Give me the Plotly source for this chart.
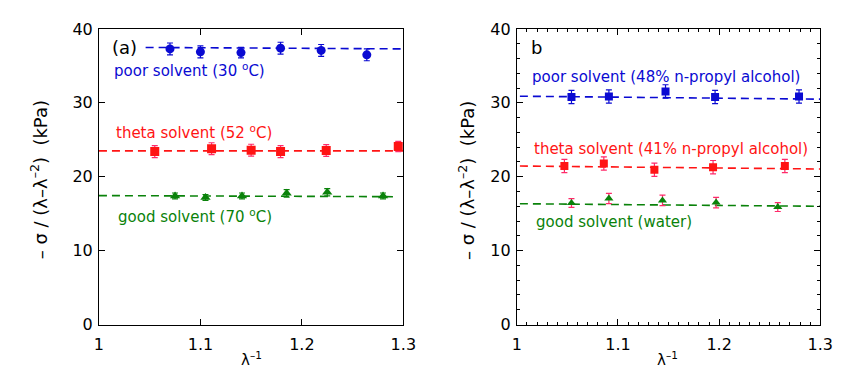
import plotly.graph_objects as go

# ---- data: panel (a) ----
a_poor_x = [1.070, 1.100, 1.140, 1.179, 1.219, 1.264]
a_poor_y = [37.3, 36.9, 36.8, 37.4, 37.1, 36.5]
a_poor_e = [0.8, 0.8, 0.7, 0.8, 0.8, 0.8]
a_poor_fit_x = [1.046, 1.30]
a_poor_fit_y = [37.5, 37.3]

a_theta_x = [1.055, 1.111, 1.150, 1.179, 1.224, 1.295]
a_theta_y = [23.4, 23.8, 23.6, 23.4, 23.55, 24.1]
a_theta_e = [0.8, 0.8, 0.8, 0.8, 0.8, 0.7]
a_theta_fit_x = [1.00, 1.30]
a_theta_fit_y = [23.5, 23.5]

a_good_x = [1.075, 1.105, 1.141, 1.185, 1.225, 1.280]
a_good_y = [17.4, 17.2, 17.4, 17.75, 17.9, 17.4]
a_good_e = [0.4, 0.4, 0.4, 0.5, 0.5, 0.4]
a_good_fit_x = [1.00, 1.29]
a_good_fit_y = [17.45, 17.3]

# ---- data: panel (b) ----
b_poor_x = [1.054, 1.091, 1.147, 1.196, 1.279]
b_poor_y = [30.8, 30.85, 31.55, 30.8, 30.85]
b_poor_e = [0.9, 0.9, 0.9, 0.9, 0.9]
b_poor_fit_x = [1.003, 1.30]
b_poor_fit_y = [30.9, 30.5]

b_theta_x = [1.047, 1.086, 1.136, 1.194, 1.265]
b_theta_y = [21.45, 21.8, 20.95, 21.3, 21.45]
b_theta_e = [0.9, 0.9, 0.9, 0.9, 0.9]
b_theta_fit_x = [1.003, 1.30]
b_theta_fit_y = [21.45, 21.05]

b_good_x = [1.054, 1.091, 1.144, 1.197, 1.258]
b_good_y = [16.45, 17.05, 16.8, 16.5, 15.9]
b_good_e = [0.6, 0.7, 0.7, 0.7, 0.6]
b_good_fit_x = [1.003, 1.30]
b_good_fit_y = [16.35, 16.0]

x_ticks = [1.0, 1.1, 1.2, 1.3]
x_tick_text = ["1", "1.1", "1.2", "1.3"]
y_ticks = [0, 10, 20, 30, 40]

BLUE = "#0a0ad2"
RED = "#ff1414"
RED_ERR = "#ff2a6a"
GREEN = "#0a820a"
FONT = "DejaVu Sans"

fig = go.Figure()

def add_series(x, y, e, fx, fy, color, ecolor, symbol, xa, ya, size=8):
    fig.add_trace(go.Scatter(x=fx, y=fy, mode="lines", xaxis=xa, yaxis=ya,
                             line=dict(color=color, width=1.6, dash="8px,5px"),
                             showlegend=False, hoverinfo="skip"))
    fig.add_trace(go.Scatter(x=x, y=y, mode="markers", xaxis=xa, yaxis=ya,
                             marker=dict(color=color, symbol=symbol, size=size),
                             error_y=dict(type="data", array=e, color=ecolor,
                                          thickness=1.2, width=3),
                             showlegend=False))

add_series(a_poor_x, a_poor_y, a_poor_e, a_poor_fit_x, a_poor_fit_y, BLUE, BLUE, "circle", "x", "y", 9)
add_series(a_theta_x, a_theta_y, a_theta_e, a_theta_fit_x, a_theta_fit_y, RED, RED_ERR, "square", "x", "y", 9)
add_series(a_good_x, a_good_y, a_good_e, a_good_fit_x, a_good_fit_y, GREEN, GREEN, "triangle-up", "x", "y", 9)
add_series(b_poor_x, b_poor_y, b_poor_e, b_poor_fit_x, b_poor_fit_y, BLUE, BLUE, "square", "x2", "y2", 8)
add_series(b_theta_x, b_theta_y, b_theta_e, b_theta_fit_x, b_theta_fit_y, RED, RED_ERR, "square", "x2", "y2", 8)
add_series(b_good_x, b_good_y, b_good_e, b_good_fit_x, b_good_fit_y, GREEN, RED_ERR, "triangle-up", "x2", "y2", 8)

H = 383
W = 845
ydom = [(H - 332) / H, (H - 21) / H]

common_x = dict(range=[1.0, 1.3], tickvals=x_ticks, ticktext=x_tick_text,
                ticks="inside", ticklen=6, tickcolor="black", showline=True,
                linecolor="black", linewidth=1, mirror="ticks", showgrid=False,
                zeroline=False, ticklabelstandoff=5,
                tickfont=dict(family=FONT, size=16, color="black"))
common_y = dict(range=[0, 40], tickvals=y_ticks, ticks="inside", ticklen=6,
                tickcolor="black", showline=True, linecolor="black", linewidth=1,
                mirror="ticks", showgrid=False, zeroline=False, ticklabelstandoff=2,
                tickfont=dict(family=FONT, size=16, color="black"))

fig.update_layout(
    width=W, height=H, margin=dict(l=0, r=0, t=0, b=0),
    paper_bgcolor="white", plot_bgcolor="white",
    xaxis=dict(domain=[96 / W, 407 / W], anchor="y", **common_x),
    yaxis=dict(domain=ydom, anchor="x", **common_y),
    xaxis2=dict(domain=[523 / W, 833 / W], anchor="y2",
                minor=dict(dtick=0.01, ticklen=3, ticks="inside", tickcolor="black"),
                **common_x),
    yaxis2=dict(domain=ydom, anchor="x2",
                minor=dict(dtick=2, ticklen=3, ticks="inside", tickcolor="black"),
                **common_y),
)

ytitle = "– σ / (λ–λ<sup>–2</sup>)  (kPa)"
def ann(text, x, y, color="black", size=15, xanchor="left", angle=0):
    fig.add_annotation(text=text, x=x / W, y=1 - y / H, xref="paper", yref="paper",
                       showarrow=False, xanchor=xanchor, yanchor="middle",
                       textangle=angle, font=dict(family=FONT, size=size, color=color))

ann(ytitle, 35, 180, size=18, xanchor="center", angle=-90)
ann(ytitle, 472, 180, size=18, xanchor="center", angle=-90)
ann("λ<sup>–1</sup>", 252, 368, size=15, xanchor="center")
ann("λ<sup>–1</sup>", 677, 368, size=15, xanchor="center")

ann("(a)", 107, 40, size=18)
ann("poor solvent (30 <sup>o</sup>C)", 109, 64, color=BLUE)
ann("theta solvent (52 <sup>o</sup>C)", 111, 129, color=RED)
ann("good solvent (70 <sup>o</sup>C)", 113, 218, color=GREEN)

ann("b", 535, 41, size=18)
ann("poor solvent (48% n-propyl alcohol)", 536, 72, color=BLUE)
ann("theta solvent (41% n-propyl alcohol)", 538, 147, color=RED)
ann("good solvent (water)", 541, 224, color=GREEN)

fig.write_html("out.html")
